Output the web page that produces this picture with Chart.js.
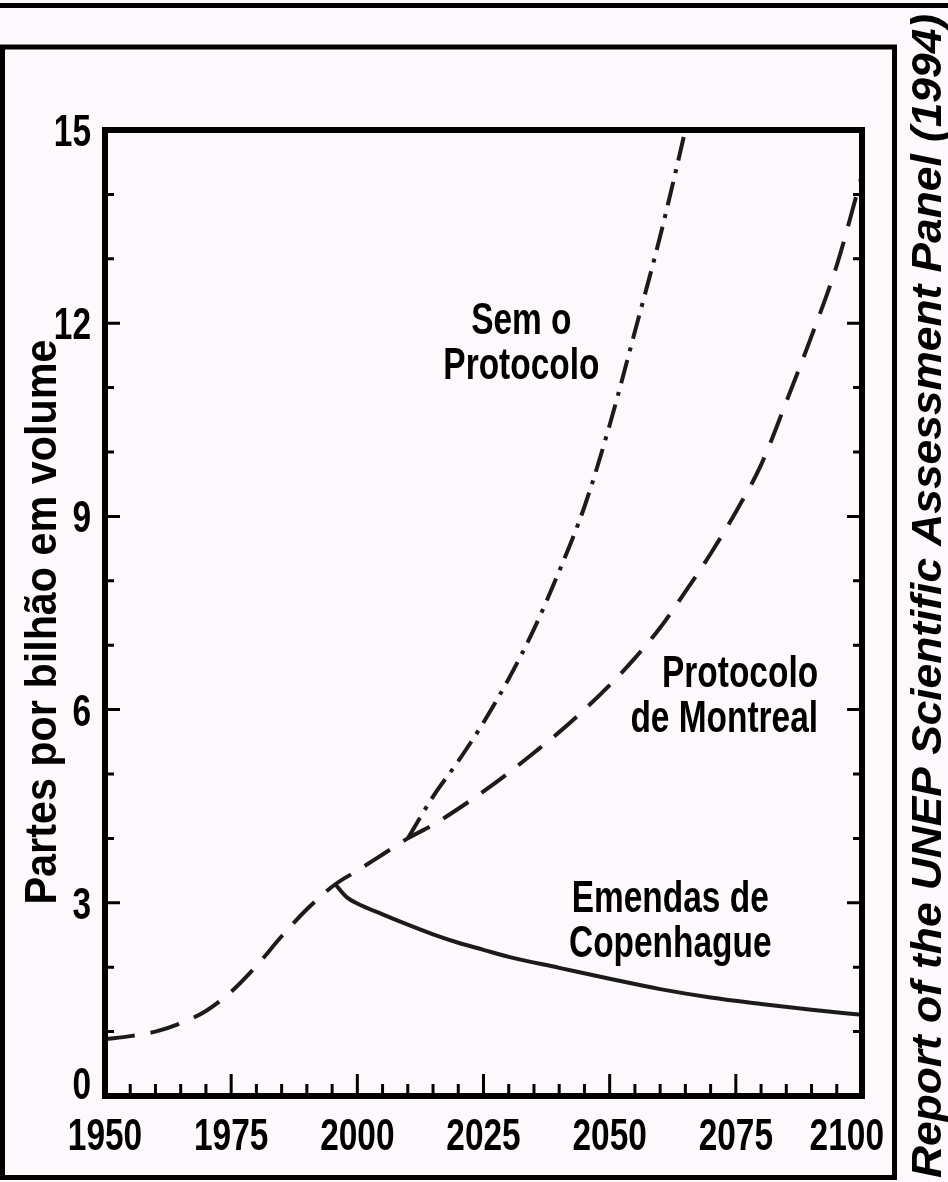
<!DOCTYPE html>
<html lang="pt">
<head>
<meta charset="utf-8">
<title>Partes por bilhão em volume</title>
<script src="https://cdn.jsdelivr.net/npm/chart.js@4.4.1/dist/chart.umd.min.js"></script>
<style>
  html, body { margin: 0; padding: 0; background: #fcf8fc; }
  #wrap { position: relative; width: 948px; height: 1182px; }
</style>
</head>
<body>
<div id="wrap"><canvas id="chart"></canvas></div>
<script>
// values (ppb by volume)
const montrealYears  = [1950, 1955, 1960, 1965, 1970, 1975, 1980, 1985, 1990, 1995.5, 2000, 2005, 2010, 2015, 2020, 2025, 2030, 2035, 2040, 2045, 2050, 2055, 2060, 2065, 2070, 2075, 2080, 2085, 2090, 2095, 2100];
const montrealValues = [0.88, 0.93, 1.0, 1.13, 1.32, 1.62, 2.02, 2.48, 2.9, 3.28, 3.5, 3.75, 4.0, 4.21, 4.46, 4.73, 5.02, 5.33, 5.65, 6.0, 6.38, 6.8, 7.27, 7.83, 8.42, 9.07, 9.8, 10.78, 11.8, 12.9, 14.3];

const semProtocoloYears  = [2010, 2015, 2020, 2025, 2030, 2035, 2040, 2045, 2050, 2055, 2060, 2065, 2070];
const semProtocoloValues = [4.0, 4.65, 5.2, 5.8, 6.48, 7.25, 8.15, 9.15, 10.42, 11.87, 13.35, 15.0, 16.7];

const copenhagueYears  = [1995.5, 1998, 2000, 2005, 2010, 2015, 2020, 2025, 2030, 2040, 2050, 2060, 2070, 2080, 2090, 2100];
const copenhagueValues = [3.3, 3.08, 2.99, 2.82, 2.66, 2.51, 2.38, 2.27, 2.16, 1.99, 1.82, 1.66, 1.53, 1.43, 1.34, 1.26];

const xTickLabels = [1950, 1975, 2000, 2025, 2050, 2075, 2100];
const yTickLabels = [0, 3, 6, 9, 12, 15];

const yTitle = 'Partes por bilhão em volume';
const sourceNote = 'Report of the UNEP Scientific Assessment Panel (1994)';
const curveNotes = [
  { lines: ['Sem o', 'Protocolo'], x: 2032.5, y: 12.08, align: 'center' },
  { lines: ['Protocolo', 'de Montreal'], x: 2091.3, y: 6.6, align: 'right' },
  { lines: ['Emendas de', 'Copenhague'], x: 2062, y: 3.1, align: 'center' }
];

const SANS = "'Liberation Sans', Arial, sans-serif";
const SQUEEZE = 0.76; // the original lettering is a condensed bold face
const INK = '#1b1b1b';

function toPoints(xs, ys) {
  return xs.map((x, i) => ({ x: x, y: ys[i] }));
}

// bold text squeezed horizontally; (x, y) is the baseline anchor
function narrowText(ctx, text, x, y, align) {
  ctx.save();
  ctx.translate(x, y);
  ctx.scale(SQUEEZE, 1);
  ctx.textAlign = align;
  ctx.textBaseline = 'alphabetic';
  ctx.fillText(text, 0, 0);
  ctx.restore();
}

const framePlugin = {
  id: 'frame',
  beforeDraw(chart) {
    const ctx = chart.ctx;
    ctx.save();
    ctx.fillStyle = '#fcf8fc';
    ctx.fillRect(0, 0, chart.width, chart.height);
    ctx.fillStyle = '#000';
    ctx.fillRect(0, 3, chart.width, 5);
    ctx.strokeStyle = '#000';
    ctx.lineWidth = 5;
    ctx.strokeRect(2.5, 47, 892, 1130.5);

    // source text along the right side
    ctx.save();
    ctx.translate(941, 1178);
    ctx.rotate(-Math.PI / 2);
    ctx.font = "italic bold 42px " + SANS;
    const w = ctx.measureText(sourceNote).width;
    ctx.scale(1164 / w, 1);
    ctx.textBaseline = 'alphabetic';
    ctx.fillText(sourceNote, 0, 0);
    ctx.restore();

    // y axis title, fitted to the length it has in the original
    const { top, bottom } = chart.chartArea;
    ctx.save();
    ctx.translate(56, (top + bottom) / 2 + 9);
    ctx.rotate(-Math.PI / 2);
    ctx.font = 'bold 45px ' + SANS;
    const tw = ctx.measureText(yTitle).width;
    ctx.scale(565 / tw, 1);
    ctx.textAlign = 'center';
    ctx.textBaseline = 'alphabetic';
    ctx.fillText(yTitle, 0, 0);
    ctx.restore();
    ctx.restore();
  },
  afterDatasetsDraw(chart) {
    const ctx = chart.ctx;
    const { left, right, top, bottom } = chart.chartArea;
    const xs = chart.scales.x;
    const ys = chart.scales.y;
    ctx.save();
    ctx.strokeStyle = '#000';
    ctx.lineWidth = 3;
    xs.ticks.forEach(t => {
      if (t.value <= xs.min || t.value >= xs.max) return;
      const px = xs.getPixelForValue(t.value);
      const len = t.value % 25 === 0 ? 22 : 12;
      ctx.beginPath();
      ctx.moveTo(px, bottom);
      ctx.lineTo(px, bottom - len);
      ctx.stroke();
    });
    ys.ticks.forEach(t => {
      if (t.value <= ys.min || t.value >= ys.max) return;
      const py = ys.getPixelForValue(t.value);
      const len = t.value % 3 === 0 ? 15 : 9;
      ctx.beginPath();
      ctx.moveTo(left, py);
      ctx.lineTo(left + len, py);
      ctx.moveTo(right, py);
      ctx.lineTo(right - len, py);
      ctx.stroke();
    });
    ctx.lineWidth = 6;
    ctx.strokeRect(left, top, right - left, bottom - top);

    ctx.fillStyle = '#000';
    ctx.font = 'bold 44px ' + SANS;

    // tick labels
    xTickLabels.forEach(v => {
      const label = String(v);
      const half = ctx.measureText(label).width * SQUEEZE / 2;
      const px = Math.min(xs.getPixelForValue(v), 884 - half);
      narrowText(ctx, label, px, 1150, 'center');
    });
    yTickLabels.forEach(v => {
      const py = Math.min(ys.getPixelForValue(v), bottom - 13);
      narrowText(ctx, String(v), 91, py + 16, 'right');
    });

    // curve labels
    curveNotes.forEach(n => {
      const px = xs.getPixelForValue(n.x);
      const py = ys.getPixelForValue(n.y);
      n.lines.forEach((line, i) => narrowText(ctx, line, px, py + 16 + i * 45, n.align));
    });
    ctx.restore();
  }
};

new Chart(document.getElementById('chart'), {
  type: 'line',
  data: {
    datasets: [
      {
        label: 'Protocolo de Montreal',
        data: toPoints(montrealYears, montrealValues),
        borderColor: INK, borderWidth: 4, borderDash: [30, 16],
        pointRadius: 0, cubicInterpolationMode: 'monotone', fill: false
      },
      {
        label: 'Sem o Protocolo',
        data: toPoints(semProtocoloYears, semProtocoloValues),
        borderColor: INK, borderWidth: 4, borderDash: [24, 9, 4, 9],
        pointRadius: 0, cubicInterpolationMode: 'monotone', fill: false
      },
      {
        label: 'Emendas de Copenhague',
        data: toPoints(copenhagueYears, copenhagueValues),
        borderColor: INK, borderWidth: 4,
        pointRadius: 0, cubicInterpolationMode: 'monotone', fill: false
      }
    ]
  },
  options: {
    responsive: true,
    maintainAspectRatio: false,
    animation: false,
    layout: { padding: { left: 0, top: 130, right: 86, bottom: 0 } },
    plugins: { legend: { display: false }, tooltip: { enabled: false } },
    scales: {
      x: {
        type: 'linear', min: 1950, max: 2100,
        grid: { display: false, drawTicks: false },
        border: { display: false },
        ticks: { stepSize: 5, autoSkip: false, display: false },
        afterFit: s => { s.height = 86; }
      },
      y: {
        min: 0, max: 15,
        grid: { display: false, drawTicks: false },
        border: { display: false },
        ticks: { stepSize: 1, autoSkip: false, display: false },
        afterFit: s => { s.width = 105; }
      }
    }
  },
  plugins: [framePlugin]
});
</script>
</body>
</html>
